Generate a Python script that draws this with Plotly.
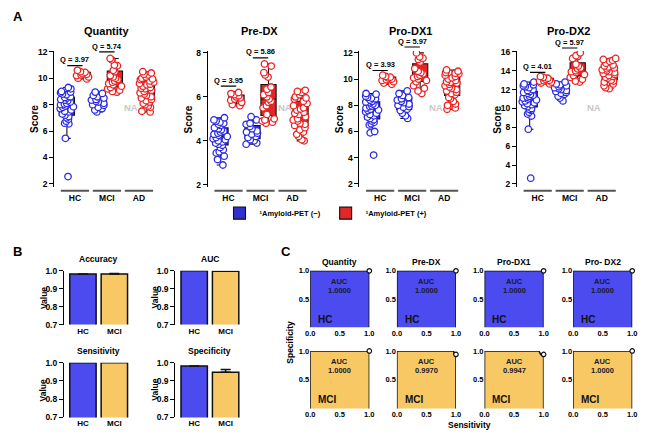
import plotly.graph_objects as go

# ---------------- data ----------------
groups_A = ["HC", "MCI", "AD"]
titles_A = ["Quantity", "Pre-DX", "Pro-DX1", "Pro-DX2"]
q_hc = ["3.97", "3.95", "3.93", "4.01"]
q_mci = ["5.74", "5.86", "5.97", "5.97"]

quantity_hc_neg = [9.3, 9.2, 9.0, 8.95, 8.9, 8.8, 8.75, 8.6, 8.55, 8.5, 8.4, 8.35, 8.3, 8.2, 8.1, 8.05, 8.0,
                   7.9, 7.85, 7.8, 7.7, 7.6, 7.5, 7.45, 7.3, 7.2, 7.1, 7.0, 6.9, 6.75, 6.6, 6.55, 5.45, 2.55]
quantity_hc_pos = [10.6, 10.5, 10.45, 10.35, 10.3, 10.25, 10.2, 10.1, 10.0, 9.95]
quantity_mci_neg = [8.95, 8.85, 8.7, 8.6, 8.5, 8.4, 8.35, 8.25, 8.2, 8.1, 8.0, 7.95, 7.8, 7.7, 7.6, 7.45]
quantity_mci_pos = [11.5, 11.4, 11.0, 10.95, 10.6, 10.5, 10.2, 10.1, 10.0, 9.9, 9.8, 9.7, 9.6, 9.5, 9.4,
                    9.3, 9.2, 9.1, 9.0, 8.95]
quantity_ad_pos = [10.5, 10.4, 10.3, 10.25, 10.1, 10.0, 9.95, 9.9, 9.8, 9.7, 9.6, 9.55, 9.5, 9.4, 9.3,
                   9.25, 9.2, 9.1, 9.0, 8.9, 8.8, 8.7, 8.6, 8.5, 8.4, 8.3, 8.2, 8.1, 8.0, 7.9, 7.8, 7.5, 7.45]

predx_hc_neg = [5.05, 4.95, 4.9, 4.85, 4.8, 4.75, 4.7, 4.6, 4.55, 4.5, 4.45, 4.4, 4.35, 4.3, 4.25, 4.2,
                4.15, 4.1, 4.05, 4.0, 3.95, 3.9, 3.85, 3.8, 3.7, 3.6, 3.5, 3.45, 3.3, 3.15, 2.9]
predx_hc_pos = [6.2, 6.15, 6.1, 6.05, 6.0, 5.95, 5.9, 5.85, 5.75, 5.65, 5.6]
predx_mci_neg = [5.1, 4.95, 4.8, 4.75, 4.65, 4.55, 4.45, 4.4, 4.35, 4.3, 4.2, 4.15, 4.05, 4.0, 3.9, 3.85]
predx_mci_pos = [7.5, 7.4, 7.1, 7.0, 6.9, 6.45, 6.35, 6.2, 6.1, 6.0, 5.9, 5.8, 5.75, 5.6, 5.5, 5.2,
                 5.0, 4.95, 4.9, 4.85, 4.8]
predx_ad_pos = [6.3, 6.25, 6.2, 6.1, 6.0, 5.95, 5.9, 5.8, 5.7, 5.6, 5.5, 5.45, 5.4, 5.3, 5.25, 5.2,
                5.1, 5.0, 4.95, 4.9, 4.8, 4.75, 4.7, 4.6, 4.5, 4.4, 4.3, 4.2, 4.05, 4.0]

prodx1_hc_neg = [8.9, 8.85, 8.7, 8.6, 8.55, 8.5, 8.4, 8.3, 8.25, 8.2, 8.1, 8.0, 7.95, 7.9, 7.8, 7.7,
                 7.65, 7.6, 7.5, 7.4, 7.3, 7.2, 7.1, 7.0, 6.9, 6.8, 6.7, 6.6, 6.5, 6.0, 5.9, 4.2]
prodx1_hc_pos = [10.3, 10.2, 10.15, 10.1, 10.0, 9.95, 9.9, 9.8, 9.7, 9.6]
prodx1_mci_neg = [9.1, 8.9, 8.75, 8.6, 8.5, 8.4, 8.3, 8.2, 8.1, 8.0, 7.9, 7.85, 7.7, 7.6, 7.4, 7.2, 7.0]
prodx1_mci_pos = [12.0, 11.7, 11.6, 11.5, 11.3, 10.8, 10.6, 10.5, 10.4, 10.3, 10.2, 10.1, 10.0, 9.9,
                  9.8, 9.5, 9.3, 9.1, 8.9]
prodx1_ad_pos = [10.7, 10.6, 10.5, 10.45, 10.4, 10.3, 10.2, 10.1, 10.0, 9.9, 9.8, 9.75, 9.7, 9.6, 9.5,
                 9.4, 9.3, 9.2, 9.1, 9.0, 8.9, 8.8, 8.6, 8.5, 8.3, 8.1, 8.0, 7.8, 7.7]

prodx2_hc_neg = [12.8, 12.6, 12.5, 12.4, 12.3, 12.2, 12.0, 11.9, 11.8, 11.7, 11.6, 11.5, 11.4, 11.3,
                 11.2, 11.1, 11.0, 10.9, 10.8, 10.7, 10.6, 10.5, 10.4, 10.3, 10.2, 10.0, 9.9, 9.8, 9.6,
                 9.4, 9.2, 7.8, 2.6]
prodx2_hc_pos = [13.4, 13.3, 13.2, 13.1, 13.0, 12.95, 12.9, 12.8, 12.7, 12.6]
prodx2_mci_neg = [12.8, 12.6, 12.5, 12.4, 12.3, 12.2, 12.1, 12.0, 11.9, 11.8, 11.7, 11.6, 11.5, 11.3, 11.1, 10.8]
prodx2_mci_pos = [15.9, 15.6, 15.5, 15.3, 14.7, 14.5, 14.3, 14.2, 14.0, 13.9, 13.8, 13.6, 13.5, 13.3,
                  13.1, 12.9, 12.8]
prodx2_ad_pos = [15.3, 15.2, 15.1, 15.0, 14.8, 14.6, 14.5, 14.4, 14.3, 14.2, 14.1, 14.0, 13.9, 13.8,
                 13.7, 13.6, 13.5, 13.4, 13.3, 13.2, 13.0, 12.9, 12.8, 12.6, 12.4, 12.2, 12.1]

score_ticks = [[2, 4, 6, 8, 10, 12], [2, 4, 6, 8], [2, 4, 6, 8, 10, 12], [2, 4, 6, 8, 10, 12, 14, 16]]

# panel B
metrics_B = ["Accuracy", "AUC", "Sensitivity", "Specificity"]
groups_B = ["HC", "MCI"]
accuracy = [0.983, 0.982]
accuracy_err = [0.0, 0.003]
auc = [1.0, 0.998]
auc_err = [0.0, 0.0]
sensitivity = [1.0, 1.0]
sensitivity_err = [0.0, 0.0]
specificity = [0.982, 0.947]
specificity_err = [0.0, 0.016]
value_ticks = [0.7, 0.8, 0.9, 1.0]

# panel C
titles_C = ["Quantity", "Pre-DX", "Pro-DX1", "Pro- DX2"]
roc_hc_auc = ["1.0000", "1.0000", "1.0000", "1.0000"]
roc_mci_auc = ["1.0000", "0.9970", "0.9947", "1.0000"]
roc_hc_sens = [[0, 0, 1, 1], [0, 0, 1, 1], [0, 0, 1, 1], [0, 0, 1, 1]]
roc_hc_spec = [[0, 1, 1, 0], [0, 1, 1, 0], [0, 1, 1, 0], [0, 1, 1, 0]]
roc_mci_sens = [[0, 0, 1, 1], [0, 0, 0.96, 0.97, 1, 1], [0, 0, 0.92, 0.95, 1, 1], [0, 0, 1, 1]]
roc_mci_spec = [[0, 1, 1, 0], [0, 1, 1, 0.94, 0.94, 0], [0, 1, 1, 0.94, 0.94, 0], [0, 1, 1, 0]]

# ---------------- style ----------------
W, H = 652, 441
FONT = "Liberation Sans, Arial, sans-serif"
BLUE = "#2a2ae6"
RED = "#ee2020"
BLUE_BOX = "#3030d0"
RED_BOX = "#e02828"
BAR_BLUE = "#4b4bef"
BAR_YEL = "#f8c865"


def fx(px):
    return px / W


def fy(py):
    return 1 - py / H


def dx(a, b):
    return [fx(a), fx(b)]


def dy(top, bottom):
    return [fy(bottom), fy(top)]


fig = go.Figure()
layout = {}
annotations = []
shapes = []


def bold(t):
    return "<b>" + t + "</b>"


def ann(text, x, y, size=8, xref="paper", yref="paper", angle=0, color="black", xanchor="center"):
    annotations.append(dict(text=bold(text), x=x, y=y, xref=xref, yref=yref, showarrow=False,
                            font=dict(family=FONT, size=size, color=color), textangle=angle,
                            xanchor=xanchor, yanchor="middle"))


tickfont = dict(family=FONT, size=8.5, color="black", weight="bold")

# ---------------- panel A ----------------
data_A = [
    (quantity_hc_neg, quantity_mci_neg, quantity_hc_pos, quantity_mci_pos, quantity_ad_pos),
    (predx_hc_neg, predx_mci_neg, predx_hc_pos, predx_mci_pos, predx_ad_pos),
    (prodx1_hc_neg, prodx1_mci_neg, prodx1_hc_pos, prodx1_mci_pos, prodx1_ad_pos),
    (prodx2_hc_neg, prodx2_mci_neg, prodx2_hc_pos, prodx2_mci_pos, prodx2_ad_pos),
]
A_left = [50, 206, 360, 520]
A_title_x = [103, 258, 412, 572]
A_yrange = [[1.78, 12.07], [1.91, 8.09], [1.78, 12.15], [1.69, 16.1]]
A_q_hc_px = [(56, 62), (77, 83), (61, 67), (63, 69)]
A_q_mci_px = [(42, 48), (48, 54), (37, 43), (38, 44)]

for i in range(4):
    k = i + 1
    xa, ya = f"x{k}", f"y{k}"
    hcn, mcin, hcp, mcip, adp = data_A[i]
    fig.add_trace(go.Box(
        x=["HC"] * len(hcn) + ["MCI"] * len(mcin), y=hcn + mcin, xaxis=xa, yaxis=ya,
        name="¹Amyloid-PET (−)", legendgroup="neg", showlegend=(i == 0),
        offsetgroup="neg", alignmentgroup=f"A{k}",
        boxpoints="all", jitter=1.0, pointpos=0, fillcolor=BLUE_BOX,
        line=dict(color="#111111", width=1.1), whiskerwidth=0.5,
        marker=dict(symbol="circle", size=6.5, color="white", line=dict(color=BLUE, width=1.3)),
    ))
    fig.add_trace(go.Box(
        x=["HC"] * len(hcp) + ["MCI"] * len(mcip) + ["AD"] * len(adp), y=hcp + mcip + adp,
        xaxis=xa, yaxis=ya,
        name="¹Amyloid-PET (+)", legendgroup="pos", showlegend=(i == 0),
        offsetgroup="pos", alignmentgroup=f"A{k}",
        boxpoints="all", jitter=1.0, pointpos=0, fillcolor=RED_BOX,
        line=dict(color="#111111", width=1.1), whiskerwidth=0.5,
        marker=dict(symbol="circle", size=6.5, color="white", line=dict(color=RED, width=1.3)),
    ))
    left = A_left[i]
    layout[f"xaxis{k if k > 1 else ''}"] = dict(
        domain=dx(left, left + 105), anchor=ya, type="category", categoryorder="array",
        categoryarray=groups_A, range=[-0.646, 2.585], showline=False, ticks="", showgrid=False,
        zeroline=False, ticklabelstandoff=5,
        tickfont=dict(family=FONT, size=8.5, color="black", weight="bold"))
    layout[f"yaxis{k if k > 1 else ''}"] = dict(
        domain=dy(47, 186), anchor=xa, range=A_yrange[i], tickvals=score_ticks[i], showline=True,
        linecolor="black", linewidth=1.3, ticks="outside", ticklen=4, tickwidth=1.3, tickcolor="black",
        showgrid=False, zeroline=False, tickfont=tickfont)
    ann(titles_A[i], fx(A_title_x[i]), fy(27), size=11)
    ann("Score", fx(left - 20), fy(117), size=10, angle=-90)
    for j in range(3):
        shapes.append(dict(type="line", xref=xa, yref="paper", x0=j - 0.44, x1=j + 0.44,
                           y0=fy(190), y1=fy(190), line=dict(color="#555555", width=2)))
    # NA label in the empty (-) slot of AD
    ann("NA", 1.75, fy(105), size=9.5, xref=xa, color="#c8c8c8")
    # Q annotations
    for j, (qv, (ty, ly)) in enumerate([(q_hc[i], A_q_hc_px[i]), (q_mci[i], A_q_mci_px[i])]):
        ann("Q = " + qv, j, fy(ty), size=7.5, xref=xa)
        shapes.append(dict(type="line", xref=xa, yref="paper", x0=j - 0.24, x1=j + 0.24,
                           y0=fy(ly), y1=fy(ly), line=dict(color="black", width=1.2)))

# ---------------- panel B ----------------
bar_vals = [(accuracy, accuracy_err), (auc, auc_err), (sensitivity, sensitivity_err),
            (specificity, specificity_err)]
B_pos = [(60, 272, 327), (173, 272, 327), (60, 366, 422), (173, 366, 422)]
for i in range(4):
    k = 5 + i
    xa, ya = f"x{k}", f"y{k}"
    vals, errs = bar_vals[i]
    show_err = any(e > 0 for e in errs)
    fig.add_trace(go.Bar(
        x=groups_B, y=vals, xaxis=xa, yaxis=ya, width=0.84, showlegend=False,
        marker=dict(color=[BAR_BLUE, BAR_YEL], line=dict(color="#111111", width=1.5)),
        error_y=dict(type="data", symmetric=False, array=errs, arrayminus=[0] * len(errs),
                     color="#111111", thickness=1.5, width=5, visible=show_err),
    ))
    left, top, bottom = B_pos[i]
    layout[f"xaxis{k}"] = dict(
        domain=dx(left, left + 67), anchor=ya, type="category", categoryorder="array",
        categoryarray=groups_B, range=[-0.6, 1.5], showline=False, ticks="", showgrid=False,
        zeroline=False, tickfont=dict(family=FONT, size=8, color="black", weight="bold"))
    layout[f"yaxis{k}"] = dict(
        domain=dy(top, bottom), anchor=xa, range=[0.7, 1.0], tickvals=value_ticks, tickformat=".1f",
        showline=True, linecolor="black", linewidth=1.3, ticks="outside", ticklen=4, tickwidth=1.3,
        tickcolor="black", showgrid=False, zeroline=False, tickfont=tickfont)
    ann(metrics_B[i], fx(left + 35), fy(top - 12), size=8.5)
    ann("Value", fx(left - 21), fy((top + bottom) / 2), size=8.5, angle=-90)

# ---------------- panel C ----------------
C_left = [310, 398, 487, 577]
C_rows = [(272, 330), (354, 413)]
for i in range(4):
    for r in range(2):
        k = 9 + i * 2 + r
        xa, ya = f"x{k}", f"y{k}"
        sx = roc_hc_sens[i] if r == 0 else roc_mci_sens[i]
        sy = roc_hc_spec[i] if r == 0 else roc_mci_spec[i]
        fill = BAR_BLUE if r == 0 else BAR_YEL
        fig.add_trace(go.Scatter(x=sx, y=sy, xaxis=xa, yaxis=ya, mode="lines", fill="toself",
                                 fillcolor=fill, line=dict(color="#111111", width=1.5),
                                 showlegend=False, cliponaxis=False, hoverinfo="skip"))
        fig.add_trace(go.Scatter(x=[sx[-2]], y=[sy[-2]], xaxis=xa, yaxis=ya, mode="markers",
                                 marker=dict(symbol="circle", size=4.5, color="white",
                                             line=dict(color="#111111", width=1.2)),
                                 showlegend=False, cliponaxis=False))
        top, bottom = C_rows[r]
        left = C_left[i]
        layout[f"xaxis{k}"] = dict(
            domain=dx(left, left + 60), anchor=ya, range=[0, 1], tickvals=[0, 0.5, 1],
            tickformat=".1f", showline=False, ticks="", showgrid=False, zeroline=False,
            tickfont=dict(family=FONT, size=7.5, color="black", weight="bold"))
        layout[f"yaxis{k}"] = dict(
            domain=dy(top, bottom), anchor=xa, range=[0, 1], tickvals=[0.5, 1], tickformat=".1f",
            showline=False, ticks="", showgrid=False, zeroline=False,
            tickfont=dict(family=FONT, size=7.5, color="black", weight="bold"))
        auc_txt = roc_hc_auc[i] if r == 0 else roc_mci_auc[i]
        ann("AUC", 0.5, 0.81, size=7.5, xref=xa, yref=ya, color="#1a1a2e")
        ann(auc_txt, 0.5, 0.66, size=7.5, xref=xa, yref=ya, color="#1a1a2e")
        ann("HC" if r == 0 else "MCI", 0.1, 0.15, size=10, xref=xa, yref=ya, xanchor="left",
            color="#111111")
    ann(titles_C[i], fx(C_left[i] + 30), fy(263), size=8.5)
ann("Sensitivity", fx(472), fy(430), size=8.5)
ann("Specificity", fx(290), fy(345), size=8.5, angle=-90)

# panel letters
ann("A", fx(13), fy(12), size=13)
ann("B", fx(13), fy(252), size=13)
ann("C", fx(285), fy(252), size=13)

fig.update_layout(
    width=W, height=H, margin=dict(l=0, r=0, t=0, b=0),
    paper_bgcolor="white", plot_bgcolor="white",
    font=dict(family=FONT, size=8, color="black"),
    boxmode="group", boxgap=0.0, boxgroupgap=0.05,
    showlegend=True,
    legend=dict(orientation="h", x=fx(326), xanchor="center", y=fy(213), yanchor="middle",
                font=dict(family=FONT, size=7.5, color="black", weight="bold"),
                itemwidth=30, bgcolor="rgba(0,0,0,0)"),
    annotations=annotations, shapes=shapes,
    **layout,
)

fig.write_html("out.html", config={"displayModeBar": False},
               post_script="document.body.style.margin='0';")
